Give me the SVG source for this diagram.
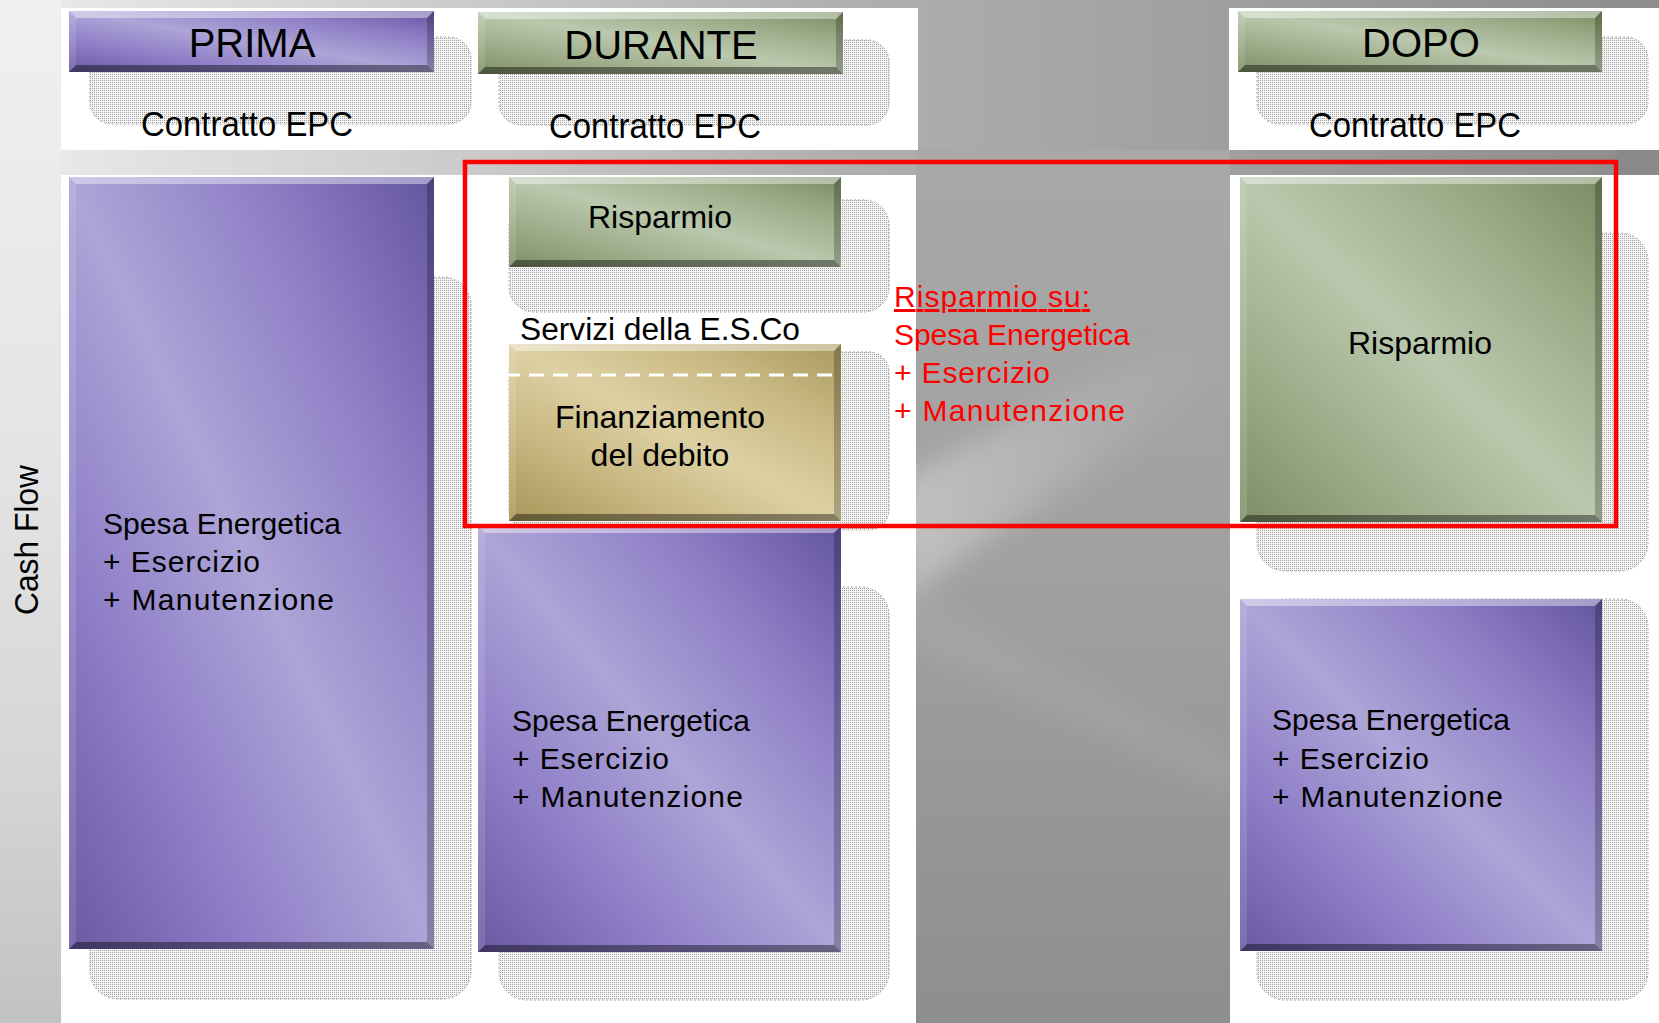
<svg xmlns="http://www.w3.org/2000/svg" width="1659" height="1023" viewBox="0 0 1659 1023">
<defs>
<linearGradient id="bg" x1="0" y1="0" x2="1" y2="0">
<stop offset="0" stop-color="#f2f2f2"/><stop offset="0.05" stop-color="#e6e6e6"/><stop offset="0.28" stop-color="#cbcbcb"/><stop offset="0.5" stop-color="#b0b0b0"/><stop offset="0.7" stop-color="#a2a2a2"/><stop offset="1" stop-color="#8d8d8d"/>
</linearGradient>
<linearGradient id="leftv" x1="0" y1="0" x2="0" y2="1">
<stop offset="0" stop-color="#f0f0f0"/><stop offset="0.45" stop-color="#e4e4e4"/><stop offset="0.75" stop-color="#d6d6d6"/><stop offset="1" stop-color="#c2c2c2"/>
</linearGradient>
<linearGradient id="midv" x1="0" y1="0" x2="0" y2="1">
<stop offset="0" stop-color="#a8a8a8"/><stop offset="0.5" stop-color="#a0a0a0"/><stop offset="1" stop-color="#8e8e8e"/>
</linearGradient>
<linearGradient id="streak" x1="0" y1="0" x2="1" y2="0">
<stop offset="0" stop-color="#ffffff" stop-opacity="0.35"/><stop offset="0.6" stop-color="#ffffff" stop-opacity="0.1"/><stop offset="1" stop-color="#ffffff" stop-opacity="0"/>
</linearGradient>
<filter id="soft" x="-20%" y="-40%" width="140%" height="180%"><feGaussianBlur stdDeviation="14"/></filter>
<clipPath id="midclip"><rect x="916" y="150" width="314" height="873"/></clipPath>
<linearGradient id="gp" x1="0" y1="1" x2="1" y2="0">
<stop offset="0" stop-color="#6a5aa2"/><stop offset="0.25" stop-color="#8e7ec7"/><stop offset="0.5" stop-color="#ada4d7"/><stop offset="0.75" stop-color="#8f80c6"/><stop offset="1" stop-color="#6455a0"/>
</linearGradient>
<linearGradient id="gg" x1="0" y1="1" x2="1" y2="0">
<stop offset="0" stop-color="#7d8e66"/><stop offset="0.25" stop-color="#9dad8a"/><stop offset="0.5" stop-color="#bac8ad"/><stop offset="0.75" stop-color="#9eae8b"/><stop offset="1" stop-color="#7a8c62"/>
</linearGradient>
<linearGradient id="gt" x1="0" y1="1" x2="1" y2="0">
<stop offset="0" stop-color="#a69758"/><stop offset="0.25" stop-color="#c6b57e"/><stop offset="0.5" stop-color="#ddd1a4"/><stop offset="0.75" stop-color="#c9b983"/><stop offset="1" stop-color="#a89a5e"/>
</linearGradient>
<pattern id="dots" width="2" height="2" patternUnits="userSpaceOnUse">
<rect width="2" height="2" fill="#f6f6f6"/><rect width="1" height="1" fill="#a0a0a0"/>
</pattern>
<style>
.t{font-family:"Liberation Sans",Arial,sans-serif;fill:#000}
.h{font-size:40px;text-anchor:middle}
.c{font-size:35px;text-anchor:middle}
.m{font-size:32px;text-anchor:middle}
.b{font-size:30px}
.red{fill:#ff0000}
.sh{fill:url(#dots);stroke:#a8a8a8;stroke-width:1;stroke-dasharray:2 2}
.bt{fill:#ffffff;fill-opacity:0.42}
.br{fill:#000000;fill-opacity:0.22}
.bb{fill:#000000;fill-opacity:0.4}
.bl{fill:#ffffff;fill-opacity:0.12}
.pan{fill:#ffffff}
</style>
</defs>

<g id="background">
<rect width="1659" height="1023" fill="url(#bg)"/>
<rect x="0" y="0" width="61" height="1023" fill="url(#leftv)"/>
<rect x="916" y="150" width="314" height="873" fill="url(#midv)"/>
<g clip-path="url(#midclip)">
<polygon points="900,480 1240,310 1240,370 900,600" fill="url(#streak)" filter="url(#soft)"/>
<polygon points="900,590 1240,760 1240,800 900,640" fill="#ffffff" fill-opacity="0.07" filter="url(#soft)"/>
</g>
<rect x="1616" y="150" width="43" height="25" fill="#8a8a8a"/>
</g>

<g id="panels">
<rect class="pan" x="61" y="8" width="857" height="142"/>
<rect class="pan" x="1229" y="8" width="430" height="142"/>
<rect class="pan" x="61" y="175" width="855" height="848"/>
<rect class="pan" x="1230" y="175" width="429" height="848"/>
</g>

<g id="shadows">
<rect class="sh" x="90" y="37" width="381" height="87" rx="22"/>
<rect class="sh" x="499" y="40" width="390" height="85" rx="22"/>
<rect class="sh" x="1257" y="37" width="391" height="87" rx="22"/>
<rect class="sh" x="90" y="277" width="381" height="722" rx="28"/>
<rect class="sh" x="509" y="200" width="380" height="112" rx="25"/>
<rect class="sh" x="509" y="352" width="380" height="178" rx="20"/>
<rect class="sh" x="499" y="587" width="390" height="413" rx="28"/>
<rect class="sh" x="1257" y="233" width="391" height="338" rx="28"/>
<rect class="sh" x="1257" y="599" width="391" height="401" rx="28"/>
</g>

<g id="connectors"/>

<g id="prima">
<rect x="69" y="11" width="365" height="61" fill="url(#gp)"/>
<polygon class="bt" points="69,11 434,11 427,18 76,18"/>
<polygon class="br" points="434,11 434,72 427,65 427,18"/>
<polygon class="bb" points="69,72 434,72 427,65 76,65"/>
<polygon class="bl" points="69,11 76,18 76,65 69,72"/>
<text class="t h" x="252" y="57">PRIMA</text>
</g>

<g id="durante">
<rect x="478" y="12" width="365" height="62" fill="url(#gg)"/>
<polygon class="bt" points="478,12 843,12 836,19 485,19"/>
<polygon class="br" points="843,12 843,74 836,67 836,19"/>
<polygon class="bb" points="478,74 843,74 836,67 485,67"/>
<polygon class="bl" points="478,12 485,19 485,67 478,74"/>
<text class="t h" x="661" y="59">DURANTE</text>
</g>

<g id="dopo">
<rect x="1238" y="11" width="364" height="61" fill="url(#gg)"/>
<polygon class="bt" points="1238,11 1602,11 1595,18 1245,18"/>
<polygon class="br" points="1602,11 1602,72 1595,65 1595,18"/>
<polygon class="bb" points="1238,72 1602,72 1595,65 1245,65"/>
<polygon class="bl" points="1238,11 1245,18 1245,65 1238,72"/>
<text class="t h" x="1421" y="57">DOPO</text>
</g>

<g id="contratto-labels">
<text class="t c" x="247" y="136" textLength="212" lengthAdjust="spacingAndGlyphs">Contratto EPC</text>
<text class="t c" x="655" y="138" textLength="212" lengthAdjust="spacingAndGlyphs">Contratto EPC</text>
<text class="t c" x="1415" y="137" textLength="212" lengthAdjust="spacingAndGlyphs">Contratto EPC</text>
</g>

<g id="prima-spesa">
<rect x="69" y="177" width="365" height="772" fill="url(#gp)"/>
<polygon class="bt" points="69,177 434,177 427,184 76,184"/>
<polygon class="br" points="434,177 434,949 427,942 427,184"/>
<polygon class="bb" points="69,949 434,949 427,942 76,942"/>
<polygon class="bl" points="69,177 76,184 76,942 69,949"/>
<text class="t b" x="103" y="534" textLength="238">Spesa Energetica</text>
<text class="t b" x="103" y="572" textLength="157">+ Esercizio</text>
<text class="t b" x="103" y="610" textLength="231">+ Manutenzione</text>
</g>

<g id="durante-risparmio">
<rect x="509" y="177" width="332" height="90" fill="url(#gg)"/>
<polygon class="bt" points="509,177 841,177 834,184 516,184"/>
<polygon class="br" points="841,177 841,267 834,260 834,184"/>
<polygon class="bb" points="509,267 841,267 834,260 516,260"/>
<polygon class="bl" points="509,177 516,184 516,260 509,267"/>
<text class="t m" x="660" y="228">Risparmio</text>
</g>

<g id="servizi-esco">
<text class="t" x="520" y="340" font-size="31" textLength="280" lengthAdjust="spacingAndGlyphs">Servizi della E.S.Co</text>
</g>

<g id="finanziamento">
<rect x="509" y="344" width="332" height="177" fill="url(#gt)"/>
<polygon class="bt" points="509,344 841,344 834,351 516,351"/>
<polygon class="br" points="841,344 841,521 834,514 834,351"/>
<polygon class="bb" points="509,521 841,521 834,514 516,514"/>
<polygon class="bl" points="509,344 516,351 516,514 509,521"/>
<line x1="481" y1="375" x2="841" y2="375" stroke="#ffffff" stroke-width="3" stroke-dasharray="15 9"/>
<text class="t m" x="660" y="428">Finanziamento</text>
<text class="t m" x="660" y="466">del debito</text>
</g>

<g id="durante-spesa">
<rect x="478" y="526" width="363" height="426" fill="url(#gp)"/>
<polygon class="bt" points="478,526 841,526 834,533 485,533"/>
<polygon class="br" points="841,526 841,952 834,945 834,533"/>
<polygon class="bb" points="478,952 841,952 834,945 485,945"/>
<polygon class="bl" points="478,526 485,533 485,945 478,952"/>
<text class="t b" x="512" y="731" textLength="238">Spesa Energetica</text>
<text class="t b" x="512" y="769" textLength="157">+ Esercizio</text>
<text class="t b" x="512" y="807" textLength="231">+ Manutenzione</text>
</g>

<g id="dopo-risparmio">
<rect x="1240" y="177" width="362" height="345" fill="url(#gg)"/>
<polygon class="bt" points="1240,177 1602,177 1595,184 1247,184"/>
<polygon class="br" points="1602,177 1602,522 1595,515 1595,184"/>
<polygon class="bb" points="1240,522 1602,522 1595,515 1247,515"/>
<polygon class="bl" points="1240,177 1247,184 1247,515 1240,522"/>
<text class="t m" x="1420" y="354">Risparmio</text>
</g>

<g id="dopo-spesa">
<rect x="1240" y="599" width="362" height="352" fill="url(#gp)"/>
<polygon class="bt" points="1240,599 1602,599 1595,606 1247,606"/>
<polygon class="br" points="1602,599 1602,951 1595,944 1595,606"/>
<polygon class="bb" points="1240,951 1602,951 1595,944 1247,944"/>
<polygon class="bl" points="1240,599 1247,606 1247,944 1240,951"/>
<text class="t b" x="1272" y="730" textLength="238">Spesa Energetica</text>
<text class="t b" x="1272" y="769" textLength="157">+ Esercizio</text>
<text class="t b" x="1272" y="807" textLength="231">+ Manutenzione</text>
</g>

<g id="cash-flow">
<text class="t" transform="translate(38,540) rotate(-90)" font-size="33" text-anchor="middle" textLength="150" lengthAdjust="spacingAndGlyphs">Cash Flow</text>
</g>

<g id="highlight">
<rect x="465" y="162" width="1151" height="364" fill="none" stroke="#ff0000" stroke-width="4.5"/>
</g>

<g id="risparmio-note">
<text class="t b red" x="894" y="307" textLength="196" text-decoration="underline">Risparmio su:</text>
<text class="t b red" x="894" y="345" textLength="236">Spesa Energetica</text>
<text class="t b red" x="894" y="383" textLength="156">+ Esercizio</text>
<text class="t b red" x="894" y="421" textLength="231">+ Manutenzione</text>
</g>
</svg>
